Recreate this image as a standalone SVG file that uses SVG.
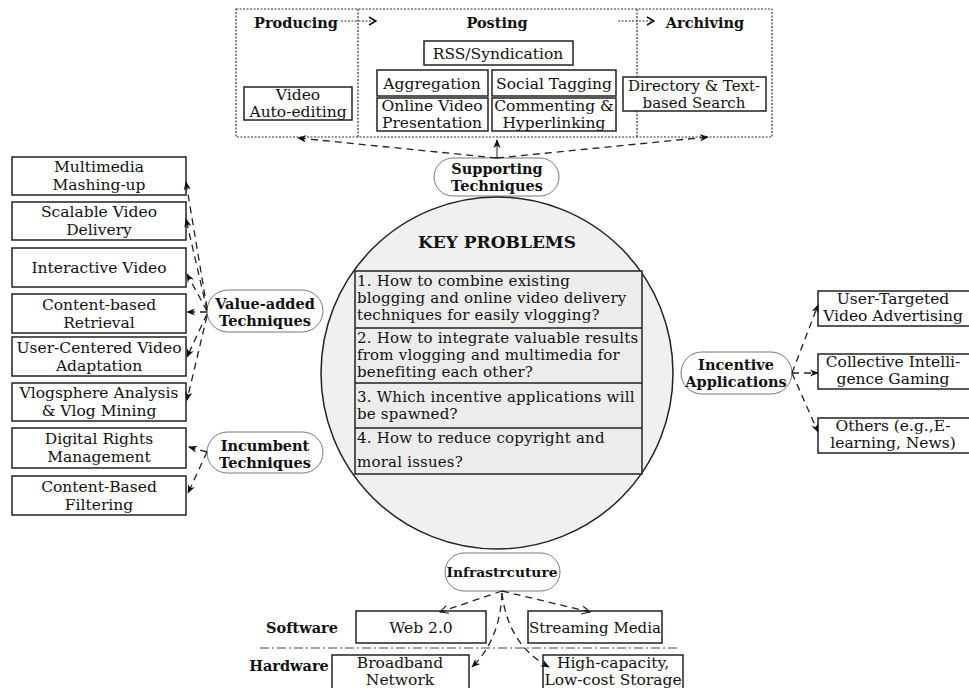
<svg xmlns="http://www.w3.org/2000/svg" width="969" height="688" viewBox="0 0 969 688">
<defs>
<style>
text{font-family:"DejaVu Serif","Liberation Serif",serif;font-size:15.5px;fill:#111;text-anchor:middle}
.b{font-weight:bold;font-size:14.5px}
.l{text-anchor:start;font-size:15px;letter-spacing:0.2px}
.box{fill:#fff;stroke:#222;stroke-width:1.5}
.node{fill:#fff;stroke:#777;stroke-width:1}
.dl{fill:none;stroke:#222;stroke-width:1.3;stroke-dasharray:7 5}
.dot{fill:none;stroke:#333;stroke-width:1.2;stroke-dasharray:2 1.5}
</style>
<marker id="ah" viewBox="0 0 10 10" refX="9" refY="5" markerWidth="9" markerHeight="9" markerUnits="userSpaceOnUse" orient="auto"><path d="M0,1 L10,5 L0,9 L3,5 Z" fill="#111"/></marker>
<marker id="ao" viewBox="0 0 10 10" refX="9" refY="5" markerWidth="10" markerHeight="10" markerUnits="userSpaceOnUse" orient="auto"><path d="M1,1 L9,5 L1,9" fill="none" stroke="#111" stroke-width="1"/></marker>
<marker id="ac" viewBox="0 0 10 10" refX="9" refY="5" markerWidth="10" markerHeight="10" markerUnits="userSpaceOnUse" orient="auto"><path d="M2,1 L9,5 L2,9" fill="none" stroke="#111" stroke-width="1.6"/></marker>
</defs>

<!-- top frame -->
<g id="lifecycle">
<rect x="236" y="9" width="536" height="128" class="dot"/>
<line x1="358" y1="9" x2="358" y2="137" class="dot"/>
<line x1="637" y1="9" x2="637" y2="137" class="dot"/>
<text x="296" y="28" class="b">Producing</text>
<text x="497" y="28" class="b">Posting</text>
<text x="705" y="28" class="b">Archiving</text>
<line x1="341" y1="21" x2="376" y2="21" class="dot" marker-end="url(#ac)"/>
<line x1="618" y1="21" x2="654" y2="21" class="dot" marker-end="url(#ac)"/>
</g>
<g id="rss"><rect x="424" y="41" width="149" height="24" class="box"/><text x="498" y="59">RSS/Syndication</text></g>
<g id="aggregation"><rect x="377" y="70" width="111" height="26" class="box"/><text x="432" y="89">Aggregation</text></g>
<g id="social"><rect x="492" y="70" width="124" height="26" class="box"/><text x="554" y="89">Social Tagging</text></g>
<g id="online"><rect x="377" y="98" width="111" height="33" class="box"/><text x="432" y="111">Online Video</text><text x="432" y="128">Presentation</text></g>
<g id="commenting"><rect x="492" y="98" width="124" height="33" class="box"/><text x="554" y="111">Commenting &amp;</text><text x="554" y="128">Hyperlinking</text></g>
<g id="videoedit"><rect x="244" y="87" width="108" height="33" class="box"/><text x="298" y="100">Video</text><text x="298" y="117">Auto-editing</text></g>
<g id="directory"><rect x="623" y="77" width="143" height="34" class="box"/><text x="694" y="91" style="font-size:15px">Directory &amp; Text-</text><text x="694" y="108" style="font-size:15px">based Search</text></g>

<g id="supporting"><rect x="434" y="158" width="125" height="38" rx="19" class="node"/><text x="497" y="174" class="b">Supporting</text><text x="497" y="191" class="b">Techniques</text></g>

<!-- circle -->
<g id="keyproblems">
<circle cx="497" cy="373" r="176" fill="#f0f0f0" stroke="#222" stroke-width="1.5"/>
<text x="497" y="248" class="b" style="font-size:17px">KEY PROBLEMS</text>
<rect x="355" y="271" width="287" height="203" fill="#ececec" stroke="#222" stroke-width="1.5"/>
<line x1="355" y1="328" x2="642" y2="328" stroke="#222" stroke-width="1.5"/>
<line x1="355" y1="383" x2="642" y2="383" stroke="#222" stroke-width="1.5"/>
<line x1="355" y1="428" x2="642" y2="428" stroke="#222" stroke-width="1.5"/>
<text x="357" y="286" class="l">1. How to combine existing</text>
<text x="357" y="303" class="l">blogging and online video delivery</text>
<text x="357" y="320" class="l">techniques for easily vlogging?</text>
<text x="357" y="343" class="l">2. How to integrate valuable results</text>
<text x="357" y="360" class="l">from vlogging and multimedia for</text>
<text x="357" y="377" class="l">benefiting each other?</text>
<text x="357" y="402" class="l">3. Which incentive applications will</text>
<text x="357" y="419" class="l">be spawned?</text>
<text x="357" y="443" class="l">4. How to reduce copyright and</text>
<text x="357" y="467" class="l">moral issues?</text>
</g>

<!-- left boxes -->
<g id="mashing"><rect x="12" y="157" width="174" height="38" class="box"/><text x="99" y="172">Multimedia</text><text x="99" y="190">Mashing-up</text></g>
<g id="scalable"><rect x="12" y="202" width="174" height="38" class="box"/><text x="99" y="217">Scalable Video</text><text x="99" y="235">Delivery</text></g>
<g id="interactive"><rect x="12" y="248" width="174" height="39" class="box"/><text x="99" y="273">Interactive Video</text></g>
<g id="cbr"><rect x="12" y="294" width="174" height="39" class="box"/><text x="99" y="310">Content-based</text><text x="99" y="328">Retrieval</text></g>
<g id="adaptation"><rect x="12" y="337" width="174" height="39" class="box"/><text x="99" y="353">User-Centered Video</text><text x="99" y="371">Adaptation</text></g>
<g id="vlogsphere"><rect x="12" y="383" width="174" height="38" class="box"/><text x="99" y="398">Vlogsphere Analysis</text><text x="99" y="416">&amp; Vlog Mining</text></g>
<g id="drm"><rect x="12" y="428" width="174" height="40" class="box"/><text x="99" y="444">Digital Rights</text><text x="99" y="462">Management</text></g>
<g id="filtering"><rect x="12" y="476" width="174" height="39" class="box"/><text x="99" y="492">Content-Based</text><text x="99" y="510">Filtering</text></g>

<g id="valueadded"><rect x="207" y="290" width="116" height="42" rx="21" class="node"/><text x="265" y="309" class="b">Value-added</text><text x="265" y="326" class="b">Techniques</text></g>
<g id="incumbent"><rect x="207" y="432" width="116" height="41" rx="20.5" class="node"/><text x="265" y="451" class="b">Incumbent</text><text x="265" y="468" class="b">Techniques</text></g>

<!-- right -->
<g id="incentive"><rect x="681" y="352" width="111" height="42" rx="21" class="node"/><text x="736" y="370" class="b">Incentive</text><text x="736" y="387" class="b">Applications</text></g>
<g id="advertising"><rect x="818" y="291" width="152" height="35" class="box"/><text x="893" y="304">User-Targeted</text><text x="893" y="321">Video  Advertising</text></g>
<g id="gaming"><rect x="818" y="354" width="152" height="35" class="box"/><text x="893" y="367">Collective Intelli-</text><text x="893" y="384">gence  Gaming</text></g>
<g id="others"><rect x="818" y="418" width="152" height="35" class="box"/><text x="893" y="431">Others (e.g.,E-</text><text x="893" y="448">learning, News)</text></g>

<!-- bottom -->
<g id="infrastructure"><rect x="445" y="553" width="115" height="38" rx="19" class="node"/><text x="502" y="577" class="b" style="font-size:13.8px">Infrastrcuture</text></g>
<g id="web20"><rect x="356" y="611" width="130" height="32" class="box"/><text x="421" y="633">Web 2.0</text></g>
<g id="streaming"><rect x="528" y="611" width="134" height="32" class="box"/><text x="595" y="633" style="font-size:15px">Streaming Media</text></g>
<g id="broadband"><rect x="332" y="655" width="137" height="36" class="box"/><text x="400" y="668">Broadband</text><text x="400" y="685">Network</text></g>
<g id="storage"><rect x="543" y="655" width="140" height="36" class="box"/><text x="613" y="668">High-capacity,</text><text x="613" y="685">Low-cost Storage</text></g>
<g id="layers">
<text x="302" y="633" class="b">Software</text>
<text x="289" y="671" class="b">Hardware</text>
<line x1="260" y1="648" x2="677" y2="648" stroke="#444" stroke-width="1" stroke-dasharray="9 3 2 3"/>
</g>

<!-- connectors -->
<g id="connectors">
<path d="M497,158 L298,138" class="dl" marker-end="url(#ah)"/>
<path d="M497,158 L497,140" class="dl" marker-end="url(#ah)" style="stroke-dasharray:none;stroke-width:1"/>
<path d="M497,158 L708,137" class="dl" marker-end="url(#ah)"/>

<path d="M207,308 L186,182" class="dl" marker-end="url(#ah)"/>
<path d="M207,310 L186,219" class="dl" marker-end="url(#ah)"/>
<path d="M207,311 L187,274" class="dl" marker-end="url(#ah)"/>
<path d="M207,312 L187,312" class="dl" marker-end="url(#ah)"/>
<path d="M207,314 L187,357" class="dl" marker-end="url(#ah)"/>
<path d="M207,316 L187,400" class="dl" marker-end="url(#ah)"/>
<path d="M207,452 L189,447" class="dl" marker-end="url(#ah)"/>
<path d="M207,452 L188,493" class="dl" marker-end="url(#ah)"/>

<path d="M792,373 L818,305" class="dl" marker-end="url(#ah)"/>
<path d="M792,373 L818,373" class="dl" marker-end="url(#ah)"/>
<path d="M792,373 L818,432" class="dl" marker-end="url(#ah)"/>

<path d="M502,591 L440,612" class="dl" marker-end="url(#ao)"/>
<path d="M502,591 L590,612" class="dl" marker-end="url(#ao)"/>
<path d="M502,593 Q500,640 472,667" class="dl" marker-end="url(#ah)"/>
<path d="M502,593 Q508,645 549,667" class="dl" marker-end="url(#ah)"/>
</g>
</svg>
